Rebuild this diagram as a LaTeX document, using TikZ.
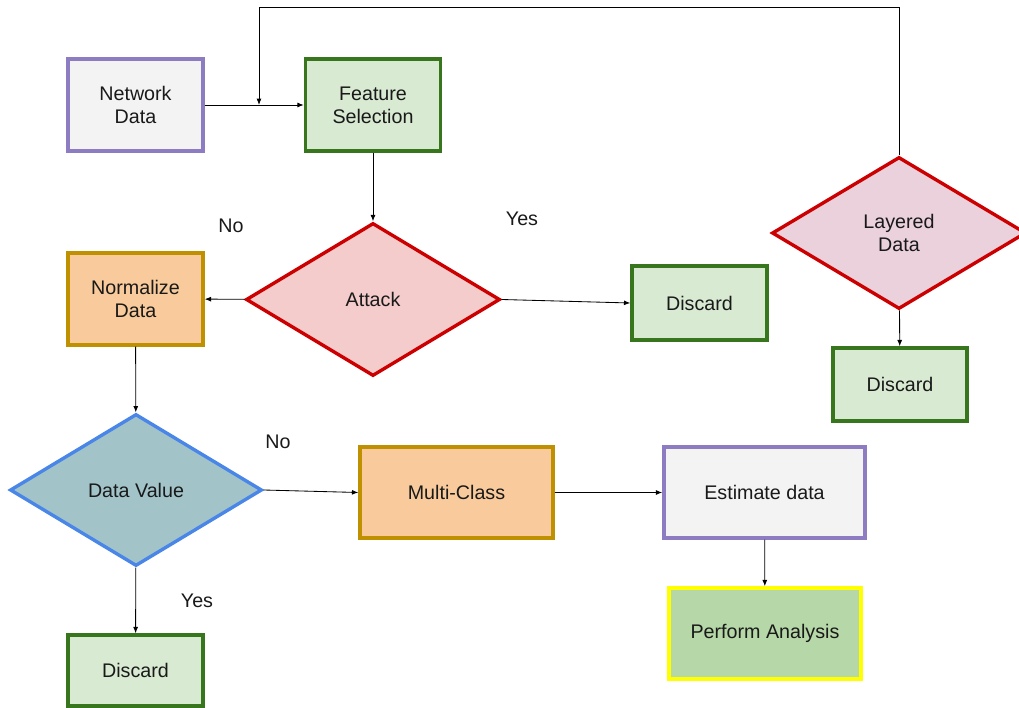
\documentclass[tikz,border=0pt]{standalone}
\usepackage{fontspec}
\setmainfont{Liberation Sans}
\usetikzlibrary{shapes.geometric,arrows.meta}

\definecolor{purpleline}{HTML}{8E7CC3}
\definecolor{grayfill}{HTML}{F3F3F3}
\definecolor{greenline}{HTML}{38761D}
\definecolor{greenfill}{HTML}{D9EAD3}
\definecolor{redline}{HTML}{CC0000}
\definecolor{redfill}{HTML}{F4CCCC}
\definecolor{pinkfill}{HTML}{EAD1DC}
\definecolor{orangeline}{HTML}{BF9000}
\definecolor{orangefill}{HTML}{F9CB9C}
\definecolor{blueline}{HTML}{4A86E8}
\definecolor{bluefill}{HTML}{A2C4C9}
\definecolor{yellowline}{HTML}{FFFF00}
\definecolor{olivefill}{HTML}{B6D7A8}

\tikzset{
	box/.style={draw, rectangle, line width=2.4pt, align=center, inner sep=0pt,
		font=\fontsize{14}{16.5}\selectfont, text=black!90},
	decision/.style={draw, diamond, line width=2.4pt, align=center, inner sep=0pt,
		font=\fontsize{14}{16.5}\selectfont, text=black!90},
	arrow/.style={-{Latex[length=4.5pt,width=3.5pt]}, line width=0.6pt},
	tag/.style={font=\fontsize{14}{16.5}\selectfont, text=black!90}
}

\begin{document}
\begin{tikzpicture}[x=0.025cm,y=-0.025cm]
				\useasboundingbox (0,0) rectangle (1019,708);
				% boxes
				\node[box, draw=purpleline, fill=grayfill, minimum width=3.375cm, minimum height=2.3cm] (network) at (135.5,105) {Network\\Data};
				\node[box, draw=greenline, fill=greenfill, minimum width=3.375cm, minimum height=2.3cm] (feature) at (373,105) {Feature\\Selection};
				\node[decision, draw=redline, fill=redfill, minimum width=6.35cm, minimum height=3.825cm] (attack) at (373,299.5) {Attack};
				\node[box, draw=orangeline, fill=orangefill, minimum width=3.375cm, minimum height=2.3cm] (normalize) at (135.5,299) {Normalize\\Data};
				\node[box, draw=greenline, fill=greenfill, minimum width=3.375cm, minimum height=1.85cm] (discardA) at (699.5,303) {Discard};
				\node[decision, draw=redline, fill=pinkfill, minimum width=6.35cm, minimum height=3.8cm] (layered) at (899,233) {Layered\\Data};
				\node[box, draw=greenline, fill=greenfill, minimum width=3.35cm, minimum height=1.825cm] (discardB) at (900,384.5) {Discard};
				\node[decision, draw=blueline, fill=bluefill, minimum width=6.3cm, minimum height=3.8cm] (value) at (136,490) {Data Value};
				\node[box, draw=orangeline, fill=orangefill, minimum width=4.825cm, minimum height=2.275cm] (multi) at (456.5,492.5) {Multi-Class};
				\node[box, draw=purpleline, fill=grayfill, minimum width=5.025cm, minimum height=2.275cm] (estimate) at (764.5,492.5) {Estimate data};
				\node[box, draw=yellowline, fill=olivefill, minimum width=4.8cm, minimum height=2.275cm] (perform) at (765,633.5) {Perform Analysis};
				\node[box, draw=greenline, fill=greenfill, minimum width=3.375cm, minimum height=1.775cm] (discardC) at (135.5,670.5) {Discard};
				% labels
				\node[tag] (noA) at (231,226) {No};
				\node[tag] (yesA) at (522,219) {Yes};
				\node[tag] (noB) at (278,442) {No};
				\node[tag] (yesB) at (197,601) {Yes};
				% connectors
				\coordinate (join) at (259,105);
				\coordinate (loop) at (259,7);
				\draw[arrow] (network) -- (feature);
				\draw[arrow] (layered.north) |- (loop) -- (join);
				\draw[arrow] (feature) -- (attack);
				\draw[arrow] (attack) -- (normalize);
				\draw[arrow] (attack.east) -- (discardA.west);
				\draw[arrow] (layered) -- (discardB);
				\draw[arrow] (normalize) -- (value);
				\draw[arrow] (value.east) -- (multi.west);
				\draw[arrow] (value) -- (discardC);
				\draw[arrow] (multi) -- (estimate);
				\draw[arrow] (estimate) -- (perform);
\end{tikzpicture}
\end{document}
